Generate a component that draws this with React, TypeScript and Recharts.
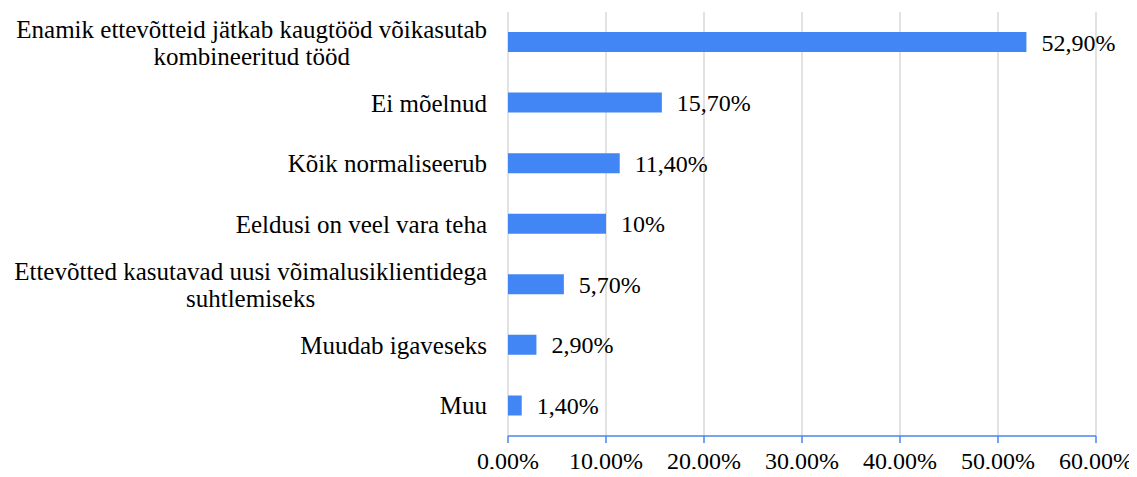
import { BarChart, Bar, XAxis, YAxis, CartesianGrid, LabelList } from "recharts";

const categories = [
  ["Enamik ettevõtteid jätkab kaugtööd võikasutab", "kombineeritud tööd"],
  ["Ei mõelnud"],
  ["Kõik normaliseerub"],
  ["Eeldusi on veel vara teha"],
  ["Ettevõtted kasutavad uusi võimalusiklientidega", "suhtlemiseks"],
  ["Muudab igaveseks"],
  ["Muu"],
];

const values = [52.9, 15.7, 11.4, 10, 5.7, 2.9, 1.4];

const valueLabels = ["52,90%", "15,70%", "11,40%", "10%", "5,70%", "2,90%", "1,40%"];

const xTicks = [0, 10, 20, 30, 40, 50, 60];
const xTickLabels = ["0,00%", "10,00%", "20,00%", "30,00%", "40,00%", "50,00%", "60,00%"];

const data = categories.map((lines, i) => ({
  name: String(i),
  value: values[i],
  label: valueLabels[i],
}));

const FONT = '"Liberation Serif", "Times New Roman", serif';
const CAT_SIZE = 25;
const NUM_SIZE = 24;

function measure(text: string) {
  const c = document.createElement("canvas").getContext("2d");
  if (!c) return text.length * 10;
  c.font = `${CAT_SIZE}px "Liberation Serif"`;
  return c.measureText(text).width;
}

// category labels: right aligned, wrapped labels centred as a block
function CategoryTick(props: any) {
  const { x, y, payload } = props;
  const lines = categories[Number(payload.value)];
  const right = x - 13;
  const style = { fontFamily: FONT, fontSize: CAT_SIZE };
  if (lines.length === 1) {
    return (
      <text x={right} y={y} dy="0.35em" textAnchor="end" style={style} fill="#000">
        {lines[0]}
      </text>
    );
  }
  const w = Math.max(...lines.map(measure));
  const cx = right - w / 2;
  const lh = 27;
  const start = y - ((lines.length - 1) * lh) / 2;
  return (
    <text textAnchor="middle" style={style} fill="#000">
      {lines.map((l, i) => (
        <tspan key={i} x={cx} y={start + i * lh} dy="0.35em">
          {l}
        </tspan>
      ))}
    </text>
  );
}

function XTick(props: any) {
  const { x, y, payload } = props;
  return (
    <text
      x={x}
      y={y}
      dy="0.71em"
      textAnchor="middle"
      style={{ fontFamily: FONT, fontSize: NUM_SIZE }}
      fill="#000"
    >
      {xTickLabels[xTicks.indexOf(payload.value)]}
    </text>
  );
}

export default function App() {
  return (
    <div style={{ margin: -8, width: 1137, height: 477, background: "#fff" }}>
      <BarChart
        width={1137}
        height={477}
        data={data}
        layout="vertical"
        margin={{ top: 12, right: 41, bottom: 0, left: 0 }}
        barCategoryGap={0}
      >
        <CartesianGrid horizontal={false} stroke="#d9d9d9" strokeWidth={1.5} />
        <XAxis
          type="number"
          domain={[0, 60]}
          ticks={xTicks}
          height={41}
          stroke="#4a86e8"
          strokeWidth={1.5}
          tickSize={7}
          tickMargin={9}
          tick={<XTick />}
          interval={0}
        />
        <YAxis
          type="category"
          dataKey="name"
          width={508}
          axisLine={false}
          tickLine={false}
          tick={<CategoryTick />}
          interval={0}
        />
        <Bar dataKey="value" fill="#4285f4" barSize={20} isAnimationActive={false}>
          <LabelList
            dataKey="label"
            position="right"
            offset={15}
            fill="#000"
            fontFamily={FONT}
            fontSize={NUM_SIZE}
          />
        </Bar>
      </BarChart>
    </div>
  );
}
